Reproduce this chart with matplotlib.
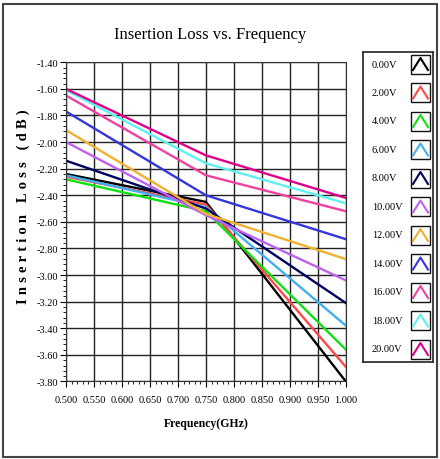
import numpy as np
import matplotlib
matplotlib.use("Agg")
import matplotlib.pyplot as plt
from matplotlib.patches import Rectangle
from matplotlib.ticker import MultipleLocator, FormatStrFormatter

# frequency breakpoints (GHz) and insertion loss (dB) per control voltage
freq = [0.50, 0.75, 1.00]
volts = ["0.00V", "2.00V", "4.00V", "6.00V", "8.00V", "10.00V",
         "12.00V", "14.00V", "16.00V", "18.00V", "20.00V"]
loss = [
    [-2.24, -2.45, -3.80],
    [-2.26, -2.47, -3.69],
    [-2.28, -2.52, -3.56],
    [-2.25, -2.49, -3.38],
    [-2.14, -2.50, -3.21],
    [-2.00, -2.55, -3.04],
    [-1.91, -2.54, -2.88],
    [-1.77, -2.40, -2.73],
    [-1.65, -2.25, -2.52],
    [-1.61, -2.16, -2.46],
    [-1.60, -2.10, -2.42],
]
colors = ["#000000", "#ff4848", "#10e010", "#40b0f0", "#000060", "#c060f0",
          "#f0b030", "#3535e0", "#f040a0", "#60f0f0", "#e0008a"]

serif = ["Liberation Serif", "DejaVu Sans"]

fig = plt.figure(figsize=(4.4, 4.6), dpi=100)
fig.patches.append(Rectangle((0.007, 0.004), 0.986, 0.985, transform=fig.transFigure,
                             fill=False, lw=1.5, ec="#444444"))

ax = fig.add_axes([0.15, 0.1685, 0.636, 0.694])
for v, c in zip(loss, colors):
    ax.plot(freq, v, color=c, lw=1.7)

ax.set_xlim(0.5, 1.0)
ax.set_ylim(-3.8, -1.4)
ax.xaxis.set_major_locator(MultipleLocator(0.05))
ax.xaxis.set_minor_locator(MultipleLocator(0.01))
ax.yaxis.set_major_locator(MultipleLocator(0.2))
ax.yaxis.set_minor_locator(MultipleLocator(0.04))
ax.xaxis.set_major_formatter(FormatStrFormatter("%.3f"))
ax.yaxis.set_major_formatter(FormatStrFormatter("%.2f"))
ax.tick_params(which="major", direction="out", length=4, width=0.8, labelsize=7.5)
ax.tick_params(which="minor", direction="out", length=2.5, width=0.6)
ax.tick_params(axis="x", which="major", pad=6)
ax.tick_params(axis="y", which="major", pad=1.5)
for lab in ax.get_xticklabels() + ax.get_yticklabels():
    lab.set_family(serif)
ax.grid(True, which="major", color="#222222", lw=1.0)
ax.set_axisbelow(True)
for s in ax.spines.values():
    s.set_color("#333333")

fig.text(0.477, 0.924, "Insertion Loss vs. Frequency", family=serif, fontsize=12,
         ha="center", va="center")
ax.set_xlabel("Frequency(GHz)", family=serif, fontsize=8.5, fontweight="bold")
ax.xaxis.set_label_coords(0.5, -0.11)
# letter-spaced axis title, as in the original
ylab = "\u2009\u200a".join("Insertion Loss (dB)")
ax.set_ylabel(ylab, family=serif, fontsize=10.5, fontweight="bold")
ax.yaxis.set_label_coords(-0.13, 0.55)

# legend panel
lg = fig.add_axes([0.825, 1 - 363 / 460, 0.159, 310 / 460])
lg.set_xlim(0, 70)
lg.set_ylim(310, 0)
lg.set_xticks([])
lg.set_yticks([])
for s in lg.spines.values():
    s.set_color("#222222")
    s.set_linewidth(1.2)
for i, (name, c) in enumerate(zip(volts, colors)):
    yc = 12 + i * 28.5
    lg.text(9, yc, name, family=serif, fontsize=7.5, va="center", ha="left")
    lg.add_patch(Rectangle((48, yc - 9.5), 19, 19, fill=False, ec="#111111", lw=1.0))
    lg.plot([50, 57.5, 65], [yc + 6, yc - 6, yc + 6], color=c, lw=1.5)

fig.savefig("out.png", dpi=100)
